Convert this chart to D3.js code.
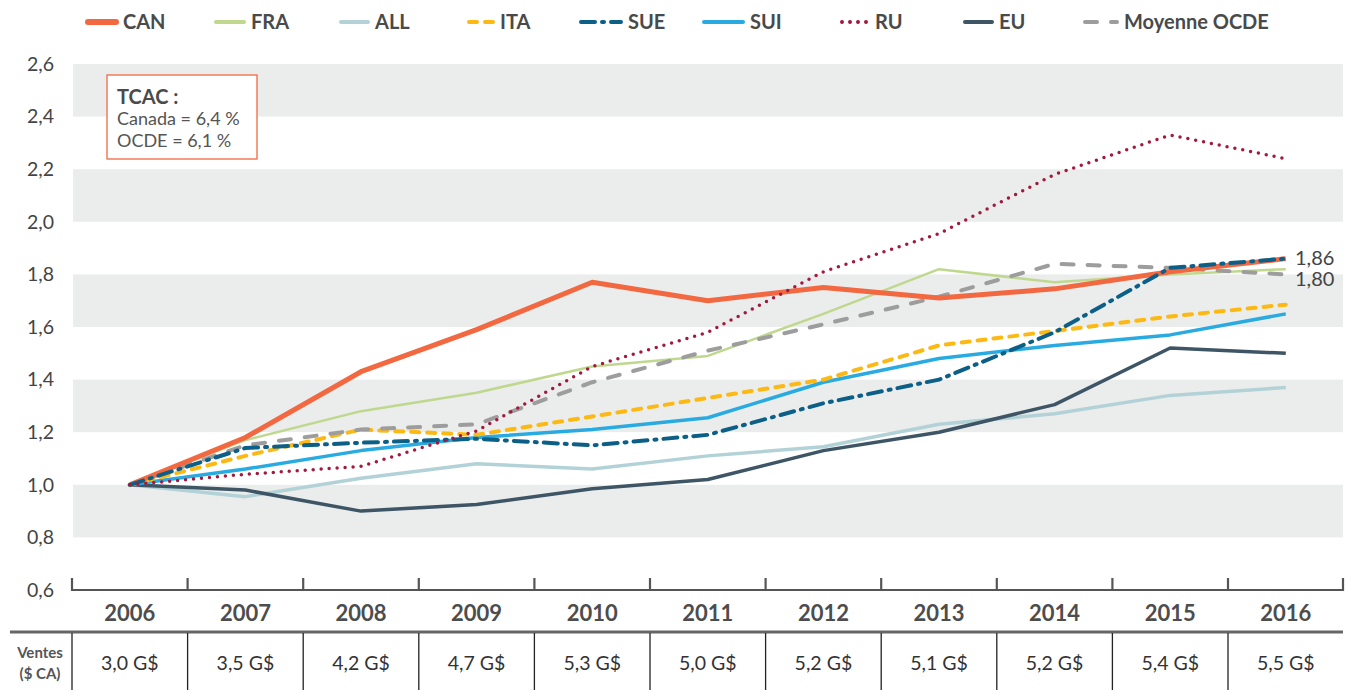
<!DOCTYPE html>
<html>
<head>
<meta charset="utf-8">
<script src="https://cdn.jsdelivr.net/npm/d3@7"></script>
<style>
  body { margin: 0; background: #fff; }
  svg { display: block; font-family: Lato, "Open Sans", sans-serif; }
</style>
</head>
<body>
<svg id="chart" width="1347" height="690"></svg>
<script>
// données
const years = ['2006','2007','2008','2009','2010','2011','2012','2013','2014','2015','2016'];
const ventes = ['3,0 G$','3,5 G$','4,2 G$','4,7 G$','5,3 G$','5,0 G$','5,2 G$','5,1 G$','5,2 G$','5,4 G$','5,5 G$'];
const yTicks = [0.6, 0.8, 1.0, 1.2, 1.4, 1.6, 1.8, 2.0, 2.2, 2.4, 2.6];

const CAN  = [1.00, 1.18, 1.43, 1.59, 1.77, 1.70, 1.75, 1.71, 1.745, 1.81, 1.86];
const FRA  = [1.00, 1.17, 1.28, 1.35, 1.45, 1.49, 1.65, 1.82, 1.77, 1.80, 1.82];
const ALL  = [1.00, 0.955, 1.025, 1.08, 1.06, 1.11, 1.145, 1.23, 1.27, 1.34, 1.37];
const ITA  = [1.00, 1.11, 1.21, 1.19, 1.26, 1.33, 1.40, 1.53, 1.585, 1.64, 1.685];
const SUE  = [1.00, 1.14, 1.16, 1.175, 1.15, 1.19, 1.31, 1.40, 1.58, 1.825, 1.86];
const SUI  = [1.00, 1.06, 1.13, 1.18, 1.21, 1.255, 1.39, 1.48, 1.53, 1.57, 1.65];
const RU   = [1.00, 1.04, 1.07, 1.205, 1.45, 1.58, 1.81, 1.955, 2.18, 2.33, 2.24];
const EU   = [1.00, 0.98, 0.90, 0.925, 0.985, 1.02, 1.13, 1.20, 1.305, 1.52, 1.50];
const OCDE = [1.00, 1.15, 1.21, 1.23, 1.39, 1.51, 1.61, 1.715, 1.84, 1.825, 1.80];

const endLabels = [{ v: 1.86, text: '1,86' }, { v: 1.80, text: '1,80' }];

// styles des séries
const series = [
  { name: 'CAN', values: CAN, color: '#f26841', width: 5, dash: null, cap: 'butt', lx: 88, lw: 28 },
  { name: 'FRA', values: FRA, color: '#bfd88d', width: 2.5, dash: null, cap: 'butt', lx: 216, lw: 28 },
  { name: 'ALL', values: ALL, color: '#b3d2d7', width: 3.5, dash: null, cap: 'butt', lx: 341, lw: 27 },
  { name: 'ITA', values: ITA, color: '#fdb913', width: 4, dash: '8,8', cap: 'round', lx: 469, lw: 24 },
  { name: 'SUE', values: SUE, color: '#0c5f86', width: 4, dash: '14,7,2,7', cap: 'round', lx: 581, lw: 40 },
  { name: 'SUI', values: SUI, color: '#29abe2', width: 3.5, dash: null, cap: 'butt', lx: 704, lw: 39 },
  { name: 'RU', values: RU, color: '#a2193f', width: 3.5, dash: '0,8', cap: 'round', lx: 842, lw: 26 },
  { name: 'EU', values: EU, color: '#3e5566', width: 3.5, dash: null, cap: 'butt', lx: 965, lw: 27 },
  { name: 'Moyenne OCDE', values: OCDE, color: '#9d9d9d', width: 4, dash: '12,14', cap: 'round', lx: 1085, lw: 32 }
];
const drawOrder = ['ALL', 'FRA', 'EU', 'SUI', 'ITA', 'Moyenne OCDE', 'CAN', 'SUE', 'RU'];

const svg = d3.select('#chart');
const fmt = v => d3.format('.1f')(v).replace('.', ',');

const x = d3.scaleBand().domain(years).range([72, 1343.6]).paddingInner(0).paddingOuter(0);
const cx = d => x(d) + x.bandwidth() / 2;
const y = d3.scaleLinear().domain([0.6, 2.6]).range([590, 64]);

// bandes grises
const bands = [[2.4, 2.6], [2.0, 2.2], [1.6, 1.8], [1.2, 1.4], [0.8, 1.0]];
svg.append('g').selectAll('rect').data(bands).join('rect')
  .attr('x', 73).attr('width', 1343 - 73)
  .attr('y', d => y(d[1])).attr('height', d => y(d[0]) - y(d[1]))
  .attr('fill', '#ebeded');

// axe y (libellés)
const yAxis = svg.append('g').attr('transform', 'translate(54,0)')
  .call(d3.axisLeft(y).tickValues(yTicks).tickFormat(fmt).tickSize(0).tickPadding(0));
yAxis.select('.domain').remove();
yAxis.selectAll('text').attr('font-size', 19.5).attr('fill', '#444').attr('font-family', 'Lato, sans-serif');

// axe x
const bounds = years.map(d => x(d)).concat([x.range()[1]]);
svg.append('line').attr('x1', 72).attr('x2', 1343).attr('y1', 590).attr('y2', 590)
  .attr('stroke', '#555').attr('stroke-width', 2.2);
svg.append('g').selectAll('line').data(bounds).join('line')
  .attr('x1', d => Math.min(d, 1343)).attr('x2', d => Math.min(d, 1343))
  .attr('y1', 578).attr('y2', 591)
  .attr('stroke', '#555').attr('stroke-width', 2.2);

svg.append('g').selectAll('text').data(years).join('text')
  .attr('x', cx).attr('y', 613).attr('dy', '0.35em')
  .attr('text-anchor', 'middle')
  .attr('font-size', 22).attr('font-weight', 'bold').attr('fill', '#4d4d4d')
  .text(d => d);

// tableau des ventes
svg.append('line').attr('x1', 10).attr('x2', 1343).attr('y1', 632).attr('y2', 632)
  .attr('stroke', '#666').attr('stroke-width', 3);
svg.append('g').selectAll('line').data(years).join('line')
  .attr('x1', d => x(d)).attr('x2', d => x(d))
  .attr('y1', 633).attr('y2', 690)
  .attr('stroke', '#222').attr('stroke-width', 1.3);
svg.append('g').selectAll('text').data(ventes).join('text')
  .attr('x', (d, i) => cx(years[i])).attr('y', 663).attr('dy', '0.35em')
  .attr('text-anchor', 'middle')
  .attr('font-size', 19.5).attr('fill', '#333')
  .text(d => d);
svg.append('text').attr('x', 40).attr('y', 653).attr('dy', '0.35em')
  .attr('text-anchor', 'middle').attr('font-size', 15).attr('font-weight', 'bold').attr('fill', '#555')
  .text('Ventes');
svg.append('text').attr('x', 40).attr('y', 674).attr('dy', '0.35em')
  .attr('text-anchor', 'middle').attr('font-size', 15).attr('font-weight', 'bold').attr('fill', '#555')
  .text('($ CA)');

// courbes
const line = d3.line().x((d, i) => cx(years[i])).y(d => y(d));
drawOrder.forEach(n => {
  const s = series.find(t => t.name === n);
  svg.append('path')
    .datum(s.values)
    .attr('d', line)
    .attr('fill', 'none')
    .attr('stroke', s.color)
    .attr('stroke-width', s.width)
    .attr('stroke-dasharray', s.dash)
    .attr('stroke-linecap', s.cap)
    .attr('stroke-linejoin', 'round');
});

// étiquettes de fin
svg.append('g').selectAll('text').data(endLabels).join('text')
  .attr('x', 1295).attr('y', (d, i) => y(d.v) + (i === 0 ? -1 : 5)).attr('dy', '0.35em')
  .attr('font-size', 20).attr('fill', '#444')
  .text(d => d.text);

// légende
const leg = svg.append('g');
series.forEach(s => {
  leg.append('line')
    .attr('x1', s.lx).attr('x2', s.lx + s.lw).attr('y1', 22).attr('y2', 22)
    .attr('stroke', s.color).attr('stroke-width', s.name === 'CAN' ? 6 : 4)
    .attr('stroke-dasharray', s.dash).attr('stroke-linecap', 'round');
  leg.append('text')
    .attr('x', s.lx + s.lw + 7).attr('y', 22).attr('dy', '0.35em')
    .attr('font-size', 20).attr('font-weight', 'bold').attr('fill', '#4a4a4a')
    .text(s.name);
});

// encadré TCAC
svg.append('rect').attr('x', 107).attr('y', 75).attr('width', 150).attr('height', 84)
  .attr('fill', '#fff').attr('stroke', '#f26841').attr('stroke-width', 1.3);
svg.append('text').attr('x', 117).attr('y', 97).attr('dy', '0.35em')
  .attr('font-size', 20).attr('font-weight', 'bold').attr('fill', '#4a4a4a').text('TCAC :');
svg.append('text').attr('x', 117).attr('y', 119).attr('dy', '0.35em')
  .attr('font-size', 18).attr('fill', '#555').text('Canada = 6,4 %');
svg.append('text').attr('x', 117).attr('y', 141).attr('dy', '0.35em')
  .attr('font-size', 18).attr('fill', '#555').text('OCDE = 6,1 %');
</script>
</body>
</html>
